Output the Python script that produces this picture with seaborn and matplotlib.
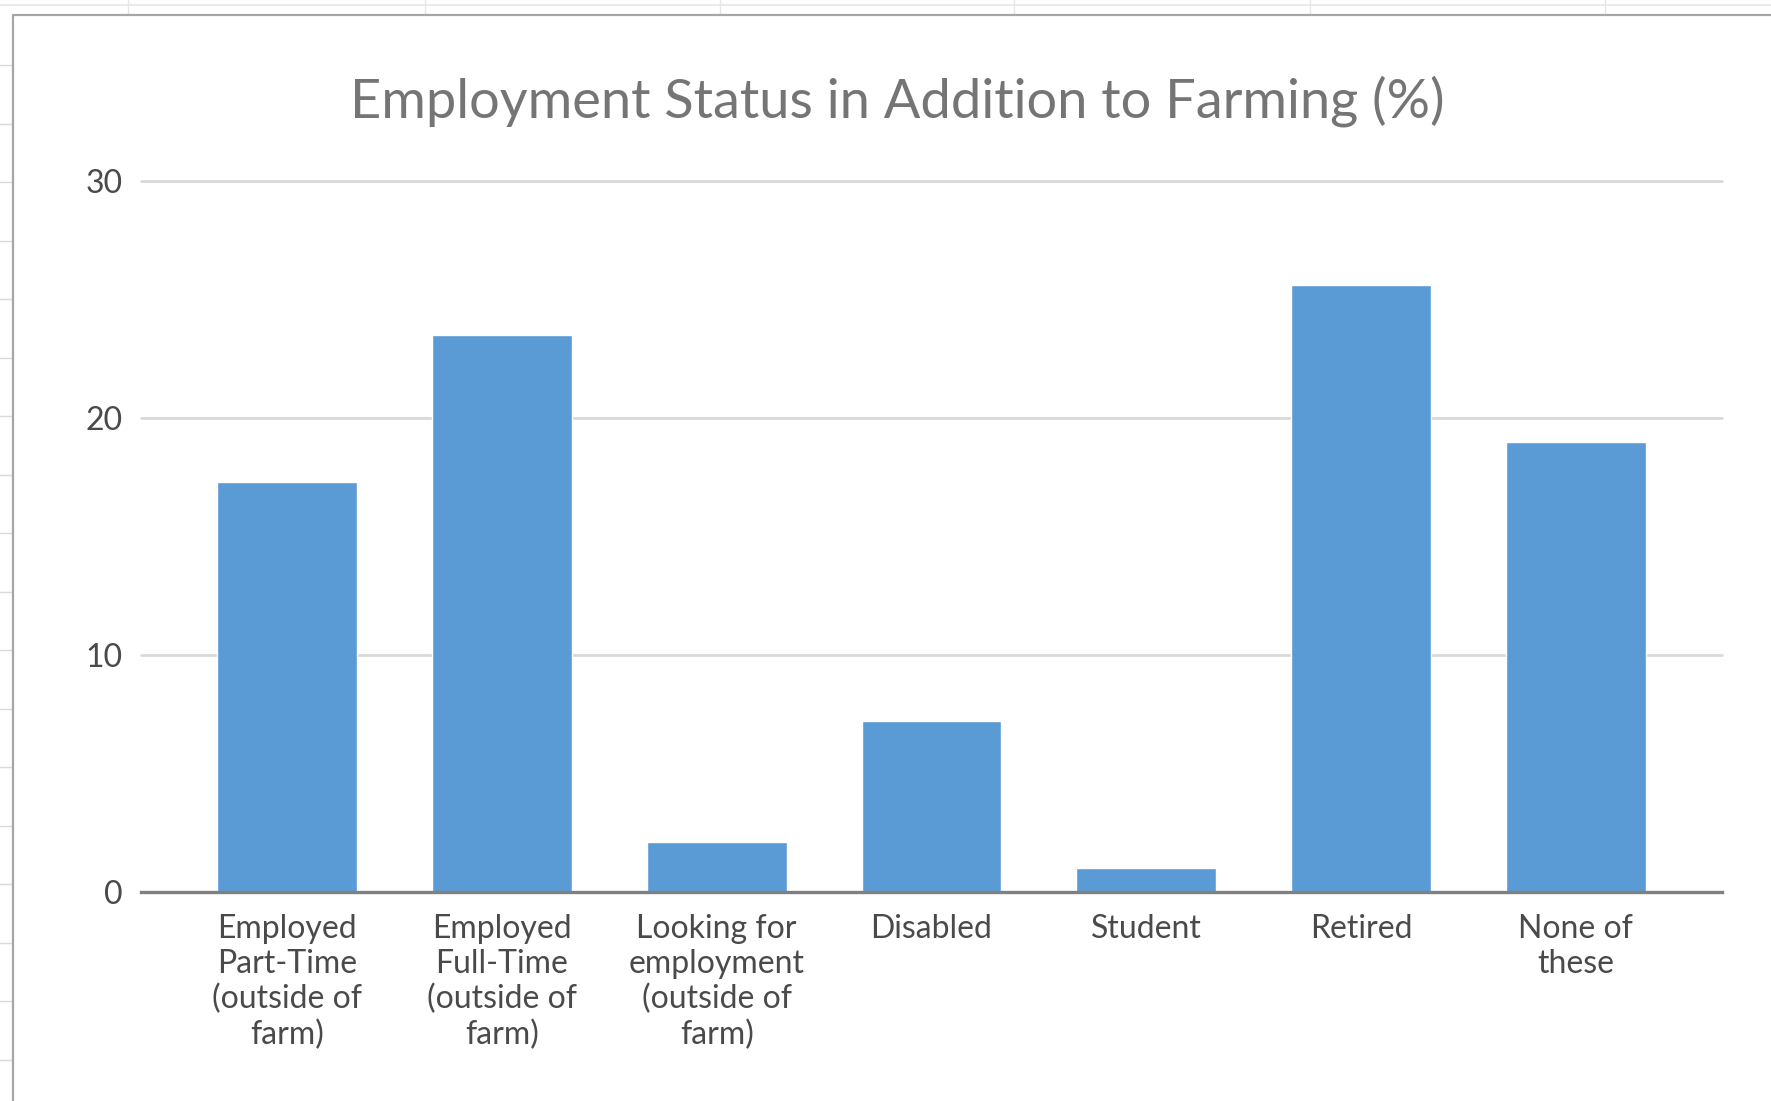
import matplotlib
matplotlib.use("Agg")
import matplotlib.pyplot as plt
from matplotlib.lines import Line2D
import seaborn as sns
import pandas as pd

categories = [
    "Employed\nPart-Time\n(outside of\nfarm)",
    "Employed\nFull-Time\n(outside of\nfarm)",
    "Looking for\nemployment\n(outside of\nfarm)",
    "Disabled",
    "Student",
    "Retired",
    "None of\nthese",
]
values = [17.3, 23.5, 2.1, 7.2, 1.0, 25.6, 19.0]
yticks = [0, 10, 20, 30]
title = "Employment Status in Addition to Farming (%)"

sns.set_theme(style="white")
plt.rcParams['font.family'] = ['Lato', 'DejaVu Sans']

W, H = 1771, 1101
fig = plt.figure(figsize=(W / 100, H / 100), dpi=100)
fig.patch.set_facecolor("white")

def fx(x):
    return x / W

def fy(y):
    return 1 - y / H

# spreadsheet background decorations
deco = "#D9D9D9"
fig.add_artist(Line2D([0, 1], [fy(5), fy(5)], color="#E6E6E6", lw=1.2, transform=fig.transFigure))
for x in [128, 425, 720, 1014, 1310, 1605]:
    fig.add_artist(Line2D([fx(x), fx(x)], [fy(0), fy(15)], color="#E6E6E6", lw=1.0, transform=fig.transFigure))
y = 65
while y < H:
    fig.add_artist(Line2D([fx(0), fx(12)], [fy(y), fy(y)], color=deco, lw=1.0, transform=fig.transFigure))
    y += 58.5
# chart area border
fig.add_artist(Line2D([fx(13), fx(13)], [fy(15), 0], color="#A6A6A6", lw=1.6, transform=fig.transFigure))
fig.add_artist(Line2D([fx(13), 1], [fy(15), fy(15)], color="#A6A6A6", lw=1.6, transform=fig.transFigure))

left, right = 141, 1722
top, bottom = 181, 891.5
ax = fig.add_axes([fx(left), fy(bottom), fx(right - left), (bottom - top) / H])

df = pd.DataFrame({"cat": categories, "val": values})
sns.barplot(data=df, x="cat", y="val", color="#5B9BD5", saturation=1, width=0.65, ax=ax)

ax.set_xlim(-0.68, 6.68)
ax.set_ylim(0, 30)
ax.set_yticks(yticks)
ax.set_xlabel("")
ax.set_ylabel("")
ax.yaxis.grid(True, color="#D9D9D9", lw=2)
ax.set_axisbelow(True)
for gl in ax.get_ygridlines():
    gl.set_clip_on(False)
for s in ["left", "right", "top"]:
    ax.spines[s].set_visible(False)
ax.spines["bottom"].set_color("#808080")
ax.spines["bottom"].set_linewidth(2.4)
ax.tick_params(axis="x", length=0, pad=16, labelsize=23, labelcolor="#4a4a4a")
ax.tick_params(axis="y", length=0, pad=13, labelsize=23, labelcolor="#4a4a4a")
for lab in ax.get_xticklabels():
    lab.set_multialignment("center")
    lab.set_linespacing(1.21)

fig.text(fx(897), fy(101), title, ha="center", va="center", fontsize=39, color="#757575")

fig.savefig("out.png", dpi=100, facecolor="white")
